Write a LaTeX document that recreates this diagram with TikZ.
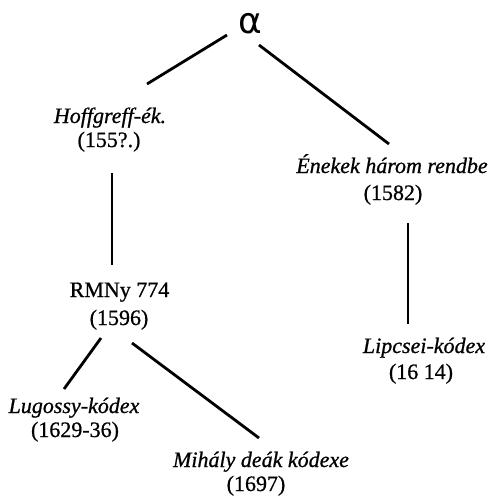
\documentclass[tikz,border=0pt]{standalone}
\usepackage{fontspec}
\setmainfont{Liberation Serif}[RawFeature={embolden=0.8}]
\newfontfamily\alphafont{DejaVu Sans}
\usetikzlibrary{calc}
\tikzset{
  lbl/.style={anchor=base, inner sep=0pt, font=\fontsize{22}{26}\selectfont},
  ttl/.style={lbl, font=\fontsize{22}{26}\selectfont\itshape},
  conn/.style={line width=2.8pt, line cap=butt}
}
\begin{document}
\begin{tikzpicture}[x=1pt,y=-1pt]
\useasboundingbox (0,0) rectangle (490,501);
\node[anchor=base, inner sep=0pt, font=\alphafont\fontsize{36}{40}\selectfont] (alpha) at (250,33) {α};
\node[ttl] (hof) at (110,123) {Hoffgreff-ék.};
\node[lbl] (hofy) at (109,147) {(155?.)};
\node[ttl] (ene) at (392,173) {Énekek három rendbe};
\node[lbl] (eney) at (393,200) {(1582)};
\node[lbl] (rmny) at (119.5,297) {RMNy 774};
\node[lbl] (rmnyy) at (119,325) {(1596)};
\node[ttl] (lip) at (424,353) {Lipcsei-kódex};
\node[lbl] (lipy) at (421,379) {(16 14)};
\node[ttl] (lug) at (74,413) {Lugossy-kódex};
\node[lbl] (lugy) at (75,437) {(1629-36)};
\node[ttl] (mih) at (261,467) {Mihály deák kódexe};
\node[lbl] (mihy) at (256,491) {(1697)};
\draw[conn] ($(alpha.base)+(-23,2)$) -- ($(hof.base)+(37,-39)$);
\draw[conn] ($(alpha.base)+(9,12)$) -- ($(ene.base)+(-3,-29)$);
\draw[conn] ($(hofy.base)+(3,26)$) -- ($(rmny.base)+(-7.5,-32)$);
\draw[conn] ($(eney.base)+(15,23)$) -- ($(lip.base)+(-16,-29)$);
\draw[conn] ($(rmnyy.base)+(-18,13)$) -- ($(lug.base)+(-10,-24)$);
\draw[conn] ($(rmnyy.base)+(13,18)$) -- ($(mih.base)+(-2,-29)$);
\end{tikzpicture}
\end{document}
